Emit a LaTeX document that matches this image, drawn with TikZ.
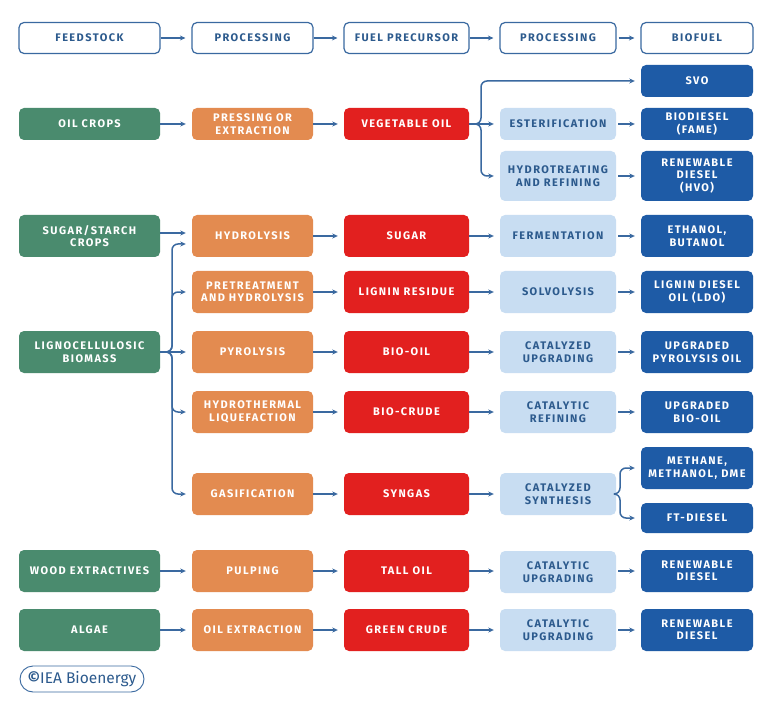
\documentclass[tikz,border=0pt]{standalone}
\usepackage{fontspec}
\usepackage{tikz}
\usetikzlibrary{arrows.meta}
\newfontfamily\labfont[LetterSpace=13]{Fira Sans}
\newfontfamily\logofont{Fira Sans}
\definecolor{feedgreen}{HTML}{4A8B6E}
\definecolor{procorange}{HTML}{E38B50}
\definecolor{precred}{HTML}{E2201F}
\definecolor{upgrblue}{HTML}{C8DDF2}
\definecolor{fuelblue}{HTML}{1E5BA6}
\definecolor{iealine}{HTML}{3A69A0}
\definecolor{headtext}{HTML}{2C5A8D}
\tikzset{
	box/.style={rounded corners=5pt, align=center, inner sep=1pt, minimum height=42pt,
		font=\labfont\bfseries\fontsize{11}{12.5}\selectfont},
	head/.style={box, draw=iealine, line width=1.2pt, fill=white, text=headtext, minimum height=31pt},
	feed/.style={box, fill=feedgreen, text=white, minimum width=141pt},
	proc/.style={box, fill=procorange, text=white, minimum width=121pt},
	prec/.style={box, fill=precred, text=white, minimum width=125pt},
	upgr/.style={box, fill=upgrblue, text=headtext, minimum width=116pt},
	fuel/.style={box, fill=fuelblue, text=white, minimum width=112pt},
	link/.style={draw=iealine, line width=1.5pt, -{Stealth[length=5.5pt,width=5pt]}, shorten >=6pt},
}
\begin{document}
\begin{tikzpicture}[x=1pt,y=-1pt]
	\fill[white] (0,0) rectangle (768,711);
	\useasboundingbox (0,0) rectangle (768,711);
	% header row
	\node[head, minimum width=141pt] at (89.5,38) (h1) {FEEDSTOCK};
	\node[head, minimum width=121pt] at (252.5,38) (h2) {PROCESSING};
	\node[head, minimum width=125pt] at (406.5,38) (h3) {FUEL PRECURSOR};
	\node[head, minimum width=116pt] at (558,38) (h4) {PROCESSING};
	\node[head, minimum width=112pt] at (697,38) (h5) {BIOFUEL};
	% oil crops
	\node[feed, minimum height=32pt] at (89.5,124) (oil) {OIL CROPS};
	\node[proc, minimum height=32pt] at (252.5,124) (press) {PRESSING OR\\EXTRACTION};
	\node[prec, minimum height=32pt] at (406.5,124) (veg) {VEGETABLE OIL};
	\node[fuel, minimum height=32pt] at (697,81) (svo) {SVO};
	\node[upgr, minimum height=32pt] at (558,124) (ester) {ESTERIFICATION};
	\node[fuel, minimum height=32pt] at (697,124) (fame) {BIODIESEL\\(FAME)};
	\node[upgr, minimum height=50pt] at (558,176) (hytr) {HYDROTREATING\\AND REFINING};
	\node[fuel, minimum height=50pt] at (697,176) (hvo) {RENEWABLE\\DIESEL\\(HVO)};
	% sugar and lignocellulosic
	\node[feed] at (89.5,236) (sugcrop) {SUGAR/STARCH\\CROPS};
	\node[proc] at (252.5,236) (hydrol) {HYDROLYSIS};
	\node[prec] at (406.5,236) (sugar) {SUGAR};
	\node[upgr] at (558,236) (ferm) {FERMENTATION};
	\node[fuel] at (697,236) (ethan) {ETHANOL,\\BUTANOL};
	\node[proc] at (252.5,292) (pretr) {PRETREATMENT\\AND HYDROLYSIS};
	\node[prec] at (406.5,292) (lignin) {LIGNIN RESIDUE};
	\node[upgr] at (558,292) (solvo) {SOLVOLYSIS};
	\node[fuel] at (697,292) (ldo) {LIGNIN DIESEL\\OIL (LDO)};
	\node[feed] at (89.5,352) (ligno) {LIGNOCELLULOSIC\\BIOMASS};
	\node[proc] at (252.5,352) (pyro) {PYROLYSIS};
	\node[prec] at (406.5,352) (biooil) {BIO-OIL};
	\node[upgr] at (558,352) (catup) {CATALYZED\\UPGRADING};
	\node[fuel] at (697,352) (upo) {UPGRADED\\PYROLYSIS OIL};
	\node[proc] at (252.5,412) (htl) {HYDROTHERMAL\\LIQUEFACTION};
	\node[prec] at (406.5,412) (biocr) {BIO-CRUDE};
	\node[upgr] at (558,412) (catref) {CATALYTIC\\REFINING};
	\node[fuel] at (697,412) (upbio) {UPGRADED\\BIO-OIL};
	\node[proc] at (252.5,494) (gasif) {GASIFICATION};
	\node[prec] at (406.5,494) (syngas) {SYNGAS};
	\node[upgr] at (558,494) (catsyn) {CATALYZED\\SYNTHESIS};
	\node[fuel] at (697,468) (meth) {METHANE,\\METHANOL, DME};
	\node[fuel, minimum height=30pt] at (697,518) (ftd) {FT-DIESEL};
	% wood extractives and algae
	\node[feed] at (89.5,571) (wood) {WOOD EXTRACTIVES};
	\node[proc] at (252.5,571) (pulp) {PULPING};
	\node[prec] at (406.5,571) (tall) {TALL OIL};
	\node[upgr] at (558,572) (catup2) {CATALYTIC\\UPGRADING};
	\node[fuel] at (697,571) (rd1) {RENEWABLE\\DIESEL};
	\node[feed] at (89.5,630) (algae) {ALGAE};
	\node[proc] at (252.5,630) (oilext) {OIL EXTRACTION};
	\node[prec] at (406.5,630) (green) {GREEN CRUDE};
	\node[upgr] at (558,630) (catup3) {CATALYTIC\\UPGRADING};
	\node[fuel] at (697,630) (rd2) {RENEWABLE\\DIESEL};
	% logo
	\node[draw=iealine, line width=0.9pt, rounded corners=13pt, minimum width=124pt, minimum height=26pt,
		text=headtext, font=\logofont\fontsize{15.5}{15.5}\selectfont] at (82,679) (logo) {\textbf{©}IEA Bioenergy};
	% straight links
	\foreach \a/\b in {h1/h2, h2/h3, h3/h4, oil/press, press/veg, hydrol/sugar, sugar/ferm,
		pretr/lignin, lignin/solvo, pyro/biooil, biooil/catup, htl/biocr, biocr/catref,
		gasif/syngas, syngas/catsyn, wood/pulp, pulp/tall, algae/oilext,
		oilext/green, green/catup3}
		\draw[link] (\a) -- (\b);
	\foreach \a/\b in {h4/h5, ester/fame, hytr/hvo, ferm/ethan, solvo/ldo, catup/upo,
		catref/upbio, catup3/rd2}
		\draw[link, shorten <=2pt] (\a) -- (\b);
	\draw[link] (tall.east) -- (tall.east -| catup2.west);
	\draw[link, shorten <=2pt] (catup2.east |- rd1.west) -- (rd1.west);
	\draw[link] ([yshift=3pt]sugcrop.east) -- ([yshift=3pt]hydrol.west);
	% branches
	\coordinate (vjoint) at (481,124);
	\draw[link] (veg) -- (ester);
	\draw[link, rounded corners=6pt] (veg.east) -- (vjoint) |- (svo.west);
	\draw[link, rounded corners=6pt] (veg.east) -- (vjoint) |- (hytr.west);
	\coordinate (ljoint) at (172,352);
	\draw[link] (ligno) -- (pyro);
	\draw[link, rounded corners=6pt] (ligno.east) -- (ljoint) |- ([yshift=-8pt]hydrol.west);
	\draw[link, rounded corners=6pt] (ligno.east) -- (ljoint) |- (pretr.west);
	\draw[link, rounded corners=6pt] (ligno.east) -- (ljoint) |- (htl.west);
	\draw[link, rounded corners=6pt] (ligno.east) -- (ljoint) |- (gasif.west);
	\coordinate (cjoint) at (620,494);
	\draw[link, rounded corners=6pt] (catsyn.east) -- (cjoint) |- (meth.west);
	\draw[link, rounded corners=6pt] (catsyn.east) -- (cjoint) |- (ftd.west);
\end{tikzpicture}
\end{document}
